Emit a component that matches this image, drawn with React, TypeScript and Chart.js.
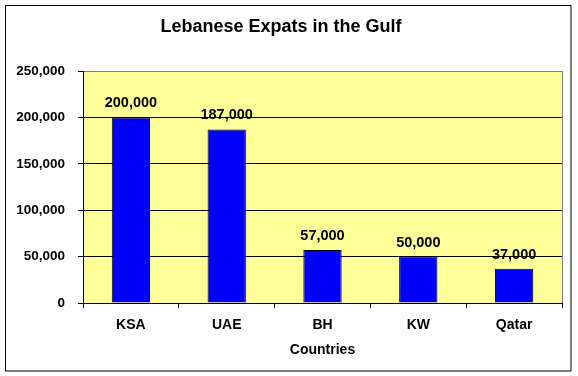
import React, { useEffect, useRef } from "react";
import { Chart, registerables } from "chart.js";

Chart.register(...registerables);

const chartTitle = "Lebanese Expats in the Gulf";
const xAxisTitle = "Countries";
const categories = ["KSA", "UAE", "BH", "KW", "Qatar"];
const expats = [200000, 187000, 57000, 50000, 37000];
const yMin = 0;
const yMax = 250000;
const yStep = 50000;

const FONT = "'Liberation Sans', Arial, sans-serif";

const fmt = (v: number) => Number(v).toLocaleString("en-US");

const frameAndPlot = {
  id: "frameAndPlot",
  beforeDraw(chart: any) {
    const { ctx, chartArea: a, width, height } = chart;
    ctx.save();
    ctx.fillStyle = "#ffffff";
    ctx.fillRect(0, 0, width, height);
    ctx.strokeStyle = "#000000";
    ctx.lineWidth = 1;
    ctx.strokeRect(5.5, 5.5, 565.5, 365.5);
    ctx.fillStyle = "#FFFF99";
    ctx.fillRect(a.left, a.top, a.right - a.left, a.bottom - a.top);
    ctx.strokeStyle = "#808080";
    ctx.strokeRect(Math.round(a.left) + 0.5, Math.round(a.top) + 0.5, Math.round(a.right - a.left), Math.round(a.bottom - a.top));
    ctx.restore();
  },
};

const valueLabels = {
  id: "valueLabels",
  afterDatasetsDraw(chart: any) {
    const { ctx } = chart;
    const meta = chart.getDatasetMeta(0);
    const data = chart.data.datasets[0].data as number[];
    ctx.save();
    ctx.font = `bold 14.5px ${FONT}`;
    ctx.fillStyle = "#000000";
    ctx.textAlign = "center";
    ctx.textBaseline = "middle";
    meta.data.forEach((bar: any, i: number) => {
      ctx.fillText(fmt(data[i]), bar.x, bar.y - 14);
    });
    ctx.restore();
  },
};

export default function App() {
  const ref = useRef<HTMLCanvasElement>(null);

  useEffect(() => {
    if (!ref.current) return;
    const chart = new Chart(ref.current, {
      type: "bar",
      data: {
        labels: categories,
        datasets: [
          {
            label: "Expats",
            data: expats,
            backgroundColor: "#0000FF",
            borderColor: "#000000",
            borderWidth: 1,
            categoryPercentage: 1,
            barPercentage: 0.4,
          },
        ],
      },
      options: {
        responsive: false,
        animation: false,
        layout: { padding: { left: 0, right: 16, top: 0, bottom: 0 } },
        plugins: {
          legend: { display: false },
          tooltip: { enabled: false },
          title: {
            display: true,
            text: chartTitle,
            color: "#000000",
            font: { family: FONT, size: 18, weight: "bold" },
            padding: { top: 16.5, bottom: 32.9 },
          },
        },
        scales: {
          x: {
            grid: {
              display: true,
              drawOnChartArea: false,
              drawTicks: true,
              tickLength: 5,
              color: "#000000",
              offset: true,
            },
            border: { display: true, color: "#000000", width: 1 },
            ticks: {
              color: "#000000",
              font: { family: FONT, size: 14, weight: "bold" },
              padding: 9,
              maxRotation: 0,
            },
            title: {
              display: true,
              text: xAxisTitle,
              color: "#000000",
              font: { family: FONT, size: 14, weight: "bold" },
              padding: { top: 0, bottom: 17 },
            },
            afterFit(scale: any) {
              scale.height = 73;
            },
          },
          y: {
            min: yMin,
            max: yMax,
            grid: {
              color: (c: any) => (c.tick && c.tick.value === yMax ? "#808080" : "#000000"),
              tickColor: "#000000",
              tickLength: 5,
              drawTicks: true,
            },
            border: { display: true, color: "#000000", width: 1 },
            ticks: {
              stepSize: yStep,
              color: "#000000",
              font: { family: FONT, size: 13.5, weight: "bold" },
              padding: 13,
              callback: (v: any) => fmt(v),
            },
            afterFit(scale: any) {
              scale.width = 83;
            },
          },
        },
      },
      plugins: [frameAndPlot, valueLabels],
    });
    return () => chart.destroy();
  }, []);

  return (
    <div style={{ position: "absolute", left: 0, top: 0, width: 578, height: 376, background: "#fff" }}>
      <canvas ref={ref} width={578} height={376} style={{ display: "block" }} />
    </div>
  );
}
